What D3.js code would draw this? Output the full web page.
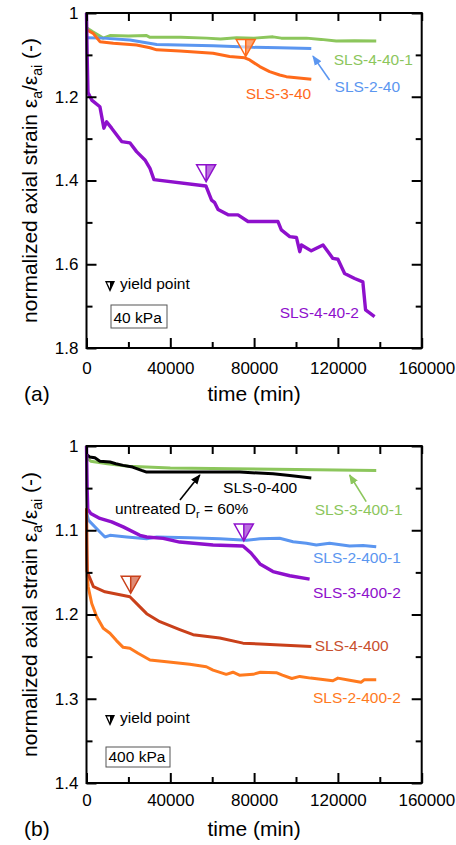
<!DOCTYPE html>
<html>
<head>
<meta charset="utf-8">
<script src="https://cdn.jsdelivr.net/npm/d3@7"></script>
<style>
body { margin: 0; background: #fff; }
svg text { font-family: "Liberation Sans", Arial, sans-serif; }
</style>
</head>
<body>
<script>
// creep curves, two panels (40 kPa / 400 kPa)

//tick values
var xTicks = [0, 40000, 80000, 120000, 160000];
var xMinor = [20000, 60000, 100000, 140000];
var yTicksA = [1, 1.2, 1.4, 1.6, 1.8];
var yMinorA = [1.1, 1.3, 1.5, 1.7];
var yTicksB = [1, 1.1, 1.2, 1.3, 1.4];
var yMinorB = [1.05, 1.15, 1.25, 1.35];

//panel (a) series, [time (min), normalized strain]
var sls4_40_1 = [[0,1.035],[3000,1.045],[8000,1.06],[11200,1.054],[20000,1.055],[28700,1.054],[30300,1.058],[45000,1.058],[57300,1.06],[64000,1.062],[71600,1.059],[80000,1.06],[89000,1.057],[93000,1.06],[97000,1.06],[105000,1.06],[112000,1.063],[119200,1.067],[128000,1.066],[138300,1.067]];
var sls2_40 = [[0,1.059],[8000,1.06],[20700,1.0645],[33500,1.075],[60400,1.078],[79500,1.082],[92200,1.083],[107300,1.0845]];
var sls3_40 = [[0,1.04],[3200,1.0486],[6400,1.0685],[12800,1.0725],[23900,1.0764],[30300,1.083],[33500,1.088],[44600,1.091],[60400,1.096],[68300,1.104],[75500,1.107],[77900,1.112],[82700,1.128],[87400,1.14],[92200,1.148],[95400,1.152],[107300,1.158]];
var sls4_40_2 = [[0,1.0],[300,1.1],[700,1.19],[2500,1.208],[6400,1.224],[8300,1.275],[9600,1.26],[12000,1.275],[16800,1.307],[20700,1.31],[23900,1.331],[27900,1.351],[30300,1.371],[32200,1.398],[57000,1.413],[59700,1.447],[61200,1.453],[62800,1.469],[67600,1.482],[72300,1.482],[77100,1.498],[91400,1.498],[93000,1.518],[97000,1.534],[100200,1.536],[101800,1.57],[102600,1.554],[107300,1.568],[112900,1.554],[117600,1.586],[120000,1.588],[123200,1.622],[128000,1.634],[131900,1.642],[133200,1.709],[137500,1.725]];

//panel (b) series
var sls3_400_1 = [[0,1.014],[2000,1.018],[10000,1.021],[20000,1.024],[40000,1.026],[70000,1.027],[100000,1.028],[138300,1.029]];
var sls0_400 = [[0,1.01],[1500,1.013],[4000,1.014],[6400,1.018],[11200,1.019],[14000,1.021],[17500,1.023],[22000,1.025],[26300,1.029],[28700,1.031],[50000,1.031],[73200,1.031],[89000,1.033],[97000,1.035],[107300,1.038]];
var sls2_400_1 = [[0,1.078],[900,1.088],[5600,1.1],[8800,1.108],[11200,1.106],[19200,1.108],[28700,1.11],[33500,1.108],[49300,1.109],[63600,1.11],[76400,1.112],[82800,1.11],[92200,1.1095],[98600,1.1136],[105000,1.1155],[109700,1.1175],[116000,1.1155],[125600,1.1187],[132000,1.118],[138300,1.1195]];
var sls3_400_2 = [[0,1.0],[300,1.05],[600,1.075],[2000,1.08],[6400,1.086],[12000,1.09],[17500,1.096],[25500,1.106],[28700,1.108],[36600,1.1096],[44500,1.114],[60400,1.1175],[74700,1.1187],[78500,1.127],[82800,1.14],[89000,1.149],[97000,1.154],[106500,1.158]];
var sls2_400_2 = [[0,1.075],[200,1.13],[400,1.155],[800,1.167],[2500,1.187],[4900,1.2026],[8000,1.2164],[11200,1.2223],[14300,1.231],[17500,1.239],[20700,1.24],[24600,1.246],[30300,1.254],[38200,1.256],[49300,1.259],[57200,1.262],[60400,1.266],[66700,1.271],[69900,1.2685],[73000,1.272],[79500,1.271],[83000,1.2685],[90600,1.269],[93500,1.272],[98000,1.276],[101800,1.2735],[107000,1.2755],[117600,1.2786],[120000,1.2755],[125600,1.278],[131000,1.2805],[132500,1.2775],[138300,1.2775]];
var sls4_400 = [[0,1.074],[150,1.12],[300,1.149],[3300,1.167],[8800,1.173],[20700,1.179],[25500,1.191],[28700,1.199],[35000,1.2085],[44500,1.218],[50900,1.224],[63600,1.228],[74700,1.234],[82800,1.235],[90000,1.236],[107300,1.238]];

var green = "#8cc65c", blue = "#5b96f0", orange = "#ff6a1a", purple = "#8e10cc",
    darkOrange = "#c9401a", lightOrange = "#ff7a1e";

var W = 456, H = 845;
var svg = d3.select("body").append("svg")
    .attr("width", W)
    .attr("height", H);

var defs = svg.append("defs");

//panel settings
var panelA = {
    top: 13, bottom: 348, yDomain: [1, 1.8], yMajor: yTicksA, yMinor: yMinorA, xPad: 14, tag: "(a)",
    series: [
        {data: sls4_40_1, color: green},
        {data: sls2_40, color: blue},
        {data: sls3_40, color: orange},
        {data: sls4_40_2, color: purple}
    ],
    labels: [
        {text: "SLS-4-40-1", t: 118000, v: 1.124, color: green},
        {text: "SLS-2-40", t: 118400, v: 1.188, color: blue},
        {text: "SLS-3-40", t: 76000, v: 1.206, color: orange},
        {text: "SLS-4-40-2", t: 92200, v: 1.729, color: purple}
    ],
    arrows: [{from: [116000, 1.16], to: [108100, 1.103], color: blue}],
    yields: [{t: 76000, v: 1.104, color: orange}, {t: 57100, v: 1.403, color: purple}],
    legendY: 289, box: {x: 111, y: 305, w: 56, h: 23, text: "40 kPa"}
};

var panelB = {
    top: 446, bottom: 783, yDomain: [1, 1.4], yMajor: yTicksB, yMinor: yMinorB, xPad: 11, tag: "(b)",
    series: [
        {data: sls3_400_1, color: green},
        {data: sls0_400, color: "#000"},
        {data: sls2_400_1, color: blue},
        {data: sls3_400_2, color: purple},
        {data: sls2_400_2, color: lightOrange},
        {data: sls4_400, color: darkOrange}
    ],
    labels: [
        {text: "SLS-0-400", t: 65200, v: 1.0558, color: "#000"},
        {text: "SLS-3-400-1", t: 108900, v: 1.0819, color: green},
        {text: "SLS-2-400-1", t: 108100, v: 1.1392, color: blue},
        {text: "SLS-3-400-2", t: 108100, v: 1.1808, color: purple},
        {text: "SLS-4-400", t: 108900, v: 1.243, color: "#c8502e"},
        {text: "SLS-2-400-2", t: 108100, v: 1.3047, color: lightOrange}
    ],
    arrows: [
        {from: [44600, 1.064], to: [54100, 1.0344], color: "#000"},
        {from: [133500, 1.0661], to: [125600, 1.0344], color: green}
    ],
    yields: [{t: 75100, v: 1.1128, color: purple}, {t: 21100, v: 1.1748, color: darkOrange}],
    legendY: 723, box: {x: 106, y: 747, w: 64, h: 20, text: "400 kPa"},
    note: {t: 13600, v: 1.081}
};

drawPanel(panelA);
drawPanel(panelB);

function drawPanel(p){
    var x = d3.scaleLinear().domain([0, 160000]).range([86.5, 421.7]);
    var y = d3.scaleLinear().domain(p.yDomain).range([p.top, p.bottom]);
    var x0 = x.range()[0], x1 = x.range()[1];

    var g = svg.append("g");

    //data lines
    var line = d3.line()
        .x(function(d){ return x(d[0]); })
        .y(function(d){ return y(d[1]); });

    g.selectAll(".series")
        .data(p.series)
        .enter()
        .append("path")
        .attr("class", "series")
        .attr("d", function(d){ return line(d.data); })
        .attr("fill", "none")
        .attr("stroke", function(d){ return d.color; })
        .attr("stroke-width", function(d){ return d.color === purple ? 3.4 : 3; })
        .attr("stroke-linejoin", "round");

    //axes, ticks pointing inward on every side
    function styleAxis(sel){
        sel.select(".domain").remove();
        sel.attr("font-size", 17).attr("font-family", "Liberation Sans, Arial, sans-serif");
        sel.selectAll("line").attr("stroke", "#000").attr("stroke-width", 2);
        sel.selectAll("text").attr("fill", "#000");
    }
    g.append("g").attr("transform", "translate(" + x0 + ",0)")
        .call(d3.axisLeft(y).tickValues(p.yMajor).tickSize(-10).tickPadding(8).tickFormat(d3.format("")))
        .call(styleAxis);
    g.append("g").attr("transform", "translate(" + x0 + ",0)")
        .call(d3.axisLeft(y).tickValues(p.yMinor).tickSize(-6).tickFormat(""))
        .call(styleAxis);
    g.append("g").attr("transform", "translate(" + x1 + ",0)")
        .call(d3.axisRight(y).tickValues(p.yMajor).tickSize(-10).tickFormat(""))
        .call(styleAxis);
    g.append("g").attr("transform", "translate(" + x1 + ",0)")
        .call(d3.axisRight(y).tickValues(p.yMinor).tickSize(-6).tickFormat(""))
        .call(styleAxis);

    var bottomAxis = g.append("g").attr("transform", "translate(0," + p.bottom + ")")
        .call(d3.axisBottom(x).tickValues(xTicks).tickSize(-10).tickPadding(p.xPad).tickFormat(d3.format("")))
        .call(styleAxis);
    //last label is pushed against the right edge in the original
    bottomAxis.selectAll(".tick text").filter(function(d){ return d === 160000; })
        .attr("text-anchor", "end").attr("dx", 33);
    g.append("g").attr("transform", "translate(0," + p.bottom + ")")
        .call(d3.axisBottom(x).tickValues(xMinor).tickSize(-6).tickFormat(""))
        .call(styleAxis);
    g.append("g").attr("transform", "translate(0," + p.top + ")")
        .call(d3.axisTop(x).tickValues(xTicks.concat(xMinor)).tickSize(-8).tickFormat(""))
        .call(styleAxis);

    //frame
    g.append("rect")
        .attr("x", x0).attr("y", p.top)
        .attr("width", x1 - x0).attr("height", p.bottom - p.top)
        .attr("fill", "none").attr("stroke", "#000").attr("stroke-width", 2);

    //yield markers (left half open, right half shaded)
    p.yields.forEach(function(m){
        var cx = x(m.t), ty = y(m.v), hw = 9.5, h = 17;
        g.append("path")
            .attr("d", "M" + (cx - hw) + "," + (ty - h) + "L" + (cx + hw) + "," + (ty - h) + "L" + cx + "," + ty + "Z")
            .attr("fill", "#fff").attr("fill-opacity", 0.6);
        g.append("path")
            .attr("d", "M" + cx + "," + (ty - h) + "L" + (cx + hw) + "," + (ty - h) + "L" + cx + "," + ty + "Z")
            .attr("fill", m.color).attr("fill-opacity", 0.6);
        g.append("path")
            .attr("d", "M" + (cx - hw) + "," + (ty - h) + "L" + (cx + hw) + "," + (ty - h) + "L" + cx + "," + ty + "Z" +
                "M" + cx + "," + (ty - h) + "L" + cx + "," + ty)
            .attr("fill", "none").attr("stroke", m.color).attr("stroke-width", 1.5);
    });

    //series labels
    g.selectAll(".lab")
        .data(p.labels)
        .enter()
        .append("text")
        .attr("class", "lab")
        .attr("x", function(d){ return x(d.t); })
        .attr("y", function(d){ return y(d.v); })
        .attr("fill", function(d){ return d.color; })
        .attr("font-size", 15.5)
        .text(function(d){ return d.text; });

    //arrows
    p.arrows.forEach(function(a, i){
        var id = "arr" + p.tag.replace(/\W/g, "") + i;
        defs.append("marker")
            .attr("id", id)
            .attr("viewBox", "0 0 10 10")
            .attr("refX", 9).attr("refY", 5)
            .attr("markerUnits", "userSpaceOnUse")
            .attr("markerWidth", 10).attr("markerHeight", 10)
            .attr("orient", "auto")
            .append("path")
            .attr("d", "M0,1L10,5L0,9Z")
            .attr("fill", a.color);
        g.append("line")
            .attr("x1", x(a.from[0])).attr("y1", y(a.from[1]))
            .attr("x2", x(a.to[0])).attr("y2", y(a.to[1]))
            .attr("stroke", a.color).attr("stroke-width", 1.6)
            .attr("marker-end", "url(#" + id + ")");
    });

    //untreated note (panel b only)
    if (p.note){
        var nt = g.append("text")
            .attr("x", x(p.note.t)).attr("y", y(p.note.v))
            .attr("font-size", 15.5).attr("fill", "#000");
        nt.append("tspan").text("untreated D");
        nt.append("tspan").attr("font-size", 11).attr("dy", 4).text("r");
        nt.append("tspan").attr("dy", -4).text(" = 60%");
    }

    //yield point legend
    var lx = 110, ly = p.legendY;
    g.append("path")
        .attr("d", "M" + (lx - 5) + "," + (ly - 8) + "L" + (lx + 5) + "," + (ly - 8) + "L" + lx + "," + (ly + 3) + "Z")
        .attr("fill", "#000");
    g.append("path")
        .attr("d", "M" + (lx - 3) + "," + (ly - 6.5) + "L" + lx + "," + (ly - 6.5) + "L" + lx + "," + (ly - 0.5) + "Z")
        .attr("fill", "#fff");
    g.append("text")
        .attr("x", 120).attr("y", ly)
        .attr("font-size", 15.5).attr("fill", "#000")
        .text("yield point");

    //confining pressure box
    g.append("rect")
        .attr("x", p.box.x).attr("y", p.box.y)
        .attr("width", p.box.w).attr("height", p.box.h)
        .attr("fill", "none").attr("stroke", "#555").attr("stroke-width", 1);
    g.append("text")
        .attr("x", p.box.x + 2.5).attr("y", p.box.y + p.box.h - 5)
        .attr("font-size", 15.5).attr("fill", "#000")
        .text(p.box.text);

    //axis titles
    g.append("text")
        .attr("x", (x0 + x1) / 2).attr("y", p.bottom + 53)
        .attr("text-anchor", "middle").attr("font-size", 21)
        .text("time (min)");
    g.append("text")
        .attr("x", 24).attr("y", p.bottom + 53)
        .attr("font-size", 21)
        .text(p.tag);

    var yt = g.append("text")
        .attr("transform", "translate(37," + ((p.top + p.bottom) / 2) + ") rotate(-90)")
        .attr("text-anchor", "middle").attr("font-size", 21);
    yt.append("tspan").text("normalized axial strain \u03b5");
    yt.append("tspan").attr("font-size", 14).attr("dy", 5).text("a");
    yt.append("tspan").attr("dy", -5).text("/\u03b5");
    yt.append("tspan").attr("font-size", 14).attr("dy", 5).text("ai");
    yt.append("tspan").attr("dy", -5).text(" (-)");
}
</script>
</body>
</html>
